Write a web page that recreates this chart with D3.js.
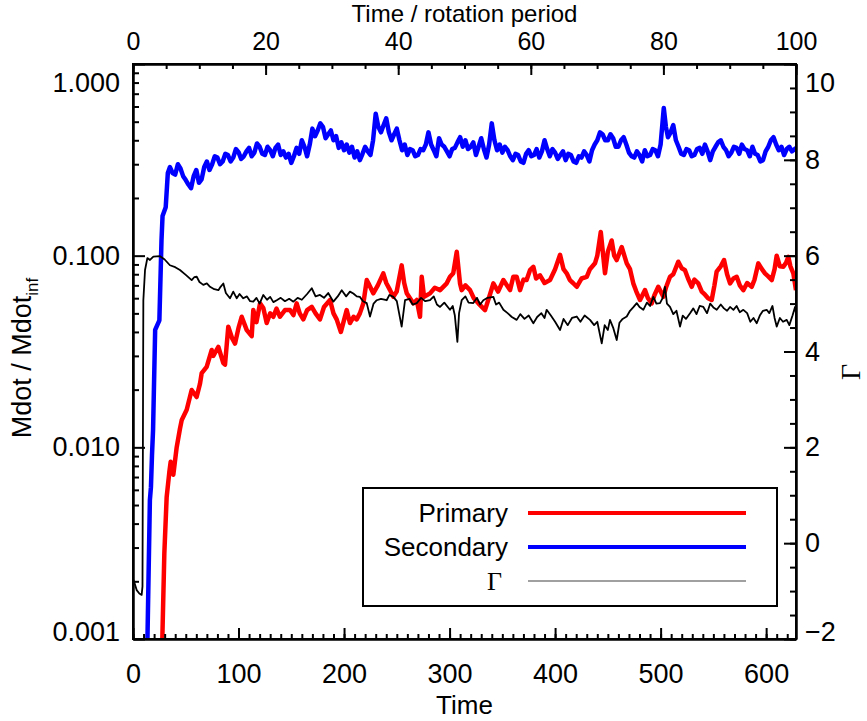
<!DOCTYPE html>
<html lang="en">
<head>
<meta charset="utf-8">
<title>Mdot / Mdot_inf and Gamma against time</title>
<script src="https://d3js.org/d3.v7.min.js"></script>
<style>
  body { margin: 0; background: #fff; }
  svg text { font-family: "Liberation Sans", Arial, Helvetica, sans-serif; fill: #000; }
  .axis path, .axis line { stroke: #000; stroke-width: 2; }
  .axis text { font-size: 27px; }
  .axis.top text { font-size: 25px; }
</style>
</head>
<body>
<div id="chart"></div>
<script>
// Primary accretion rate (red)
var primaryTime = [25, 27.8, 29.7, 31.9, 34.4, 35.7, 38.2, 41.4, 44.5, 46.2, 50.9, 55.6, 60.3, 63.5, 65.1, 69.8, 74.6, 76.1, 80.9, 85.6, 87.2, 90.3, 94, 96.7, 100, 103, 107.8, 112.5, 114, 117, 120.4, 123.5, 126.7, 130, 133, 136, 139.3, 144, 148.8, 152, 155.1, 158, 161.4, 165, 169.4, 173, 177.2, 181, 186.7, 190, 193, 197, 202.5, 205.6, 209, 212, 215, 218.3, 221.5, 223, 227.7, 232, 237.2, 240, 243.6, 246.7, 249.9, 254.6, 257, 259.4, 265.6, 268.9, 272, 273.6, 275.8, 281.5, 286, 291, 297.3, 300.4, 303.5, 306.8, 309.9, 311.5, 315, 319.4, 323, 327.3, 333.6, 338, 341.5, 346, 351, 357.3, 360.4, 363.6, 366.8, 370, 373, 376.2, 379.4, 382, 385.7, 390, 395.2, 400, 404.7, 408, 411, 414, 417, 420.5, 425, 430, 433, 437.8, 440, 443.3, 447.3, 450, 453.6, 456, 458.4, 463.1, 467.9, 471, 474.1, 477, 480.5, 485.2, 488, 491.6, 494, 497.8, 502.6, 505, 508.9, 512, 516.8, 520, 523.1, 526, 529.5, 532, 535.7, 539, 542.1, 545, 548.4, 551, 553.1, 557, 560.1, 563, 565.8, 569, 572.1, 575, 578.4, 582, 586.3, 589, 592.6, 596, 598.9, 602, 605.3, 608, 610, 613, 616.3, 619, 621, 623, 625.8, 628.3];
var primary = [0.0006, 0.001, 0.0028, 0.0055, 0.0074, 0.0084, 0.0072, 0.0100, 0.0125, 0.0139, 0.0157, 0.0199, 0.0183, 0.0215, 0.0244, 0.0263, 0.0322, 0.030, 0.0334, 0.0275, 0.027, 0.0426, 0.037, 0.0348, 0.042, 0.048, 0.0409, 0.038, 0.052, 0.045, 0.0564, 0.0533, 0.0445, 0.050, 0.048, 0.053, 0.048, 0.052, 0.052, 0.049, 0.0564, 0.050, 0.0465, 0.052, 0.0541, 0.050, 0.0465, 0.054, 0.0587, 0.050, 0.0465, 0.040, 0.052, 0.0445, 0.048, 0.0465, 0.050, 0.0564, 0.0746, 0.072, 0.0636, 0.070, 0.0809, 0.072, 0.0661, 0.061, 0.065, 0.089, 0.072, 0.0636, 0.0564, 0.0587, 0.048, 0.0776, 0.061, 0.0636, 0.068, 0.0661, 0.0717, 0.0776, 0.081, 0.1048, 0.0717, 0.0661, 0.070, 0.0661, 0.060, 0.0564, 0.052, 0.062, 0.0717, 0.065, 0.0746, 0.0661, 0.0776, 0.0776, 0.0661, 0.075, 0.0746, 0.084, 0.0875, 0.076, 0.079, 0.072, 0.0746, 0.085, 0.101, 0.085, 0.0809, 0.0746, 0.072, 0.0688, 0.076, 0.0776, 0.085, 0.0912, 0.100, 0.133, 0.0809, 0.105, 0.12, 0.100, 0.0949, 0.111, 0.0912, 0.085, 0.0717, 0.065, 0.0587, 0.0661, 0.060, 0.0564, 0.062, 0.0688, 0.061, 0.068, 0.0776, 0.080, 0.093, 0.086, 0.084, 0.076, 0.0688, 0.075, 0.0717, 0.065, 0.0626, 0.060, 0.0587, 0.070, 0.0825, 0.088, 0.0949, 0.080, 0.0717, 0.076, 0.0776, 0.070, 0.0661, 0.072, 0.0688, 0.075, 0.0912, 0.085, 0.0809, 0.078, 0.0746, 0.085, 0.1, 0.088, 0.0875, 0.092, 0.0987, 0.088, 0.0809, 0.0661];

// Secondary accretion rate (blue)
var secondaryTime = [12, 13.7, 16, 17, 18, 19, 21, 25, 27, 28, 31, 33, 35, 37.5, 40, 42.5, 45, 47.5, 50, 52.5, 55, 57.5, 60, 62.5, 65, 67.5, 70, 72.5, 75, 77.5, 80, 82.5, 85, 87.5, 90, 92.5, 95, 97.5, 100, 102.5, 105, 107.5, 110, 112.5, 115, 117.5, 120, 122.5, 125, 127.5, 130, 132.5, 135, 137.5, 140, 142.5, 145, 147.5, 150, 152.5, 155, 157.5, 160, 162.5, 165, 167.5, 170, 172.5, 175, 177.5, 180, 182.5, 185, 187.5, 190, 192.5, 195, 197.5, 200, 202.5, 205, 207.5, 210, 212.5, 215, 217.5, 220, 222.5, 225, 227.5, 230, 232.5, 235, 237.5, 240, 242.5, 245, 247.5, 250, 252.5, 255, 257.5, 260, 262.5, 265, 267.5, 270, 272.5, 275, 277.5, 280, 282.5, 285, 287.5, 290, 292.5, 295, 297.5, 300, 302.5, 305, 307.5, 310, 312.5, 315, 317.5, 320, 322.5, 325, 327.5, 330, 332.5, 335, 337.5, 340, 342.5, 345, 347.5, 350, 352.5, 355, 357.5, 360, 362.5, 365, 367.5, 370, 372.5, 375, 377.5, 380, 382.5, 385, 387.5, 390, 392.5, 395, 397.5, 400, 402.5, 405, 407.5, 410, 412.5, 415, 417.5, 420, 422.5, 425, 427.5, 430, 432.5, 435, 437.5, 440, 442.5, 445, 447.5, 450, 452.5, 455, 457.5, 460, 462.5, 465, 467.5, 470, 472.5, 475, 477.5, 480, 482.5, 485, 487.5, 490, 492.5, 495, 497.5, 500, 503, 505, 507, 509.5, 512, 514.5, 517, 519.5, 522, 524.5, 527, 529.5, 532, 534.5, 537, 539.5, 542, 544.5, 547, 549.5, 552, 554.5, 557, 559.5, 562, 564.5, 567, 569.5, 572, 574.5, 577, 579.5, 582, 584.5, 587, 589.5, 592, 594.5, 597, 599.5, 602, 604.5, 607, 609.5, 612, 614.5, 617, 619.5, 622, 624.5, 628.3];
var secondary = [0.0007, 0.001, 0.0053, 0.0062, 0.0091, 0.0123, 0.041, 0.046, 0.120, 0.161, 0.179, 0.27, 0.29, 0.27, 0.265, 0.30, 0.285, 0.26, 0.248, 0.235, 0.225, 0.26, 0.28, 0.24, 0.25, 0.29, 0.31, 0.28, 0.30, 0.33, 0.325, 0.30, 0.31, 0.34, 0.335, 0.31, 0.325, 0.36, 0.347, 0.32, 0.33, 0.35, 0.365, 0.33, 0.345, 0.385, 0.37, 0.34, 0.335, 0.37, 0.355, 0.33, 0.365, 0.38, 0.335, 0.35, 0.325, 0.34, 0.305, 0.33, 0.365, 0.34, 0.40, 0.37, 0.33, 0.38, 0.46, 0.42, 0.45, 0.49, 0.47, 0.41, 0.43, 0.45, 0.40, 0.42, 0.365, 0.39, 0.355, 0.38, 0.345, 0.37, 0.325, 0.35, 0.315, 0.34, 0.37, 0.35, 0.335, 0.40, 0.55, 0.47, 0.44, 0.48, 0.52, 0.44, 0.40, 0.43, 0.46, 0.40, 0.355, 0.38, 0.335, 0.36, 0.355, 0.33, 0.335, 0.36, 0.355, 0.38, 0.44, 0.38, 0.355, 0.33, 0.41, 0.38, 0.37, 0.35, 0.33, 0.36, 0.365, 0.39, 0.415, 0.37, 0.40, 0.36, 0.37, 0.39, 0.335, 0.37, 0.41, 0.36, 0.325, 0.38, 0.49, 0.40, 0.355, 0.38, 0.345, 0.37, 0.355, 0.33, 0.315, 0.34, 0.335, 0.31, 0.305, 0.34, 0.355, 0.33, 0.335, 0.36, 0.325, 0.35, 0.40, 0.36, 0.33, 0.36, 0.345, 0.32, 0.335, 0.35, 0.315, 0.34, 0.335, 0.31, 0.305, 0.33, 0.325, 0.35, 0.335, 0.31, 0.355, 0.38, 0.40, 0.44, 0.43, 0.40, 0.40, 0.43, 0.41, 0.37, 0.37, 0.40, 0.415, 0.38, 0.345, 0.33, 0.325, 0.35, 0.335, 0.31, 0.355, 0.33, 0.335, 0.36, 0.355, 0.33, 0.38, 0.59, 0.47, 0.415, 0.44, 0.48, 0.40, 0.37, 0.34, 0.335, 0.36, 0.355, 0.33, 0.335, 0.36, 0.365, 0.34, 0.38, 0.35, 0.315, 0.35, 0.37, 0.39, 0.40, 0.37, 0.355, 0.33, 0.345, 0.37, 0.365, 0.34, 0.38, 0.36, 0.355, 0.33, 0.37, 0.34, 0.335, 0.31, 0.315, 0.35, 0.37, 0.40, 0.415, 0.38, 0.355, 0.37, 0.335, 0.36, 0.37, 0.35, 0.365];

// Gamma (black, right axis)
var gammaTime = [0, 1, 3.5, 6, 8.2, 9, 9.5, 9.8, 11.4, 13.6, 16.1, 19.3, 25.6, 30, 35, 40, 44.5, 50, 55.6, 58, 60.4, 63, 66.6, 70, 73, 77, 80.9, 83, 85.6, 88, 91.9, 95, 98.3, 101, 104.5, 108, 111, 114, 117, 120, 123.5, 127, 130, 133, 136.2, 140, 144, 148, 152, 156, 160, 165, 169.4, 173, 177.2, 181, 185, 189.9, 194, 197.8, 202, 205.6, 208.8, 212, 215, 218, 221.5, 224.6, 228, 231, 235, 240.4, 243, 246.7, 250, 254.6, 257.8, 262, 265, 268.9, 273, 277, 281.5, 285, 288, 291, 295, 300.4, 303, 305, 307.4, 309, 311.5, 315, 318, 322.5, 326, 329, 332, 336, 341.5, 344, 347, 351, 355, 359, 363.6, 367, 371, 375, 379.4, 383, 387, 390, 392, 396, 400, 404.7, 408, 412, 416, 420.5, 424, 428, 433.1, 437, 440, 444.2, 447, 450, 452, 455, 458.4, 461, 464, 467.9, 471, 474, 477.4, 480, 483.6, 487, 490, 493.1, 496, 499.4, 502, 504.1, 506, 508.9, 512, 515, 518.4, 521, 524, 527.9, 531, 534, 537, 540.5, 544, 547, 550, 553.2, 557, 560, 563, 565.8, 569, 572, 575, 578.4, 582, 585, 588, 591.1, 594, 597, 600.5, 603, 606, 608, 610, 613, 616, 619.5, 622, 625, 627.4, 628.3];
var gamma = [-0.75, -0.80, -0.98, -1.05, -1.08, -0.9, 3.0, 5.07, 5.70, 5.95, 5.91, 5.98, 5.99, 5.92, 5.80, 5.76, 5.70, 5.60, 5.49, 5.55, 5.56, 5.45, 5.39, 5.42, 5.35, 5.30, 5.28, 5.35, 5.42, 5.22, 5.11, 5.25, 5.11, 5.2, 5.11, 5.15, 5.05, 5.04, 5.12, 5.0, 5.18, 5.08, 5.14, 5.03, 5.07, 5.12, 5.05, 5.10, 5.04, 5.12, 5.08, 5.20, 5.32, 5.15, 5.18, 5.12, 5.22, 5.04, 5.15, 5.28, 5.15, 5.25, 5.21, 5.15, 5.14, 5.05, 5.01, 4.73, 5.0, 5.07, 5.10, 5.07, 5.18, 5.14, 5.05, 4.52, 5.07, 5.10, 4.98, 5.01, 5.12, 5.05, 5.07, 5.15, 4.98, 4.93, 5.02, 4.87, 4.95, 4.75, 4.20, 4.80, 5.07, 5.15, 5.02, 5.01, 5.12, 4.98, 5.07, 5.12, 5.14, 4.98, 5.02, 4.87, 4.80, 4.72, 4.66, 4.78, 4.68, 4.75, 4.59, 4.72, 4.80, 4.70, 4.87, 4.75, 4.62, 4.45, 4.68, 4.55, 4.70, 4.73, 4.62, 4.75, 4.66, 4.55, 4.62, 4.17, 4.55, 4.45, 4.66, 4.50, 4.24, 4.60, 4.68, 4.73, 4.85, 4.92, 5.01, 4.93, 4.87, 5.02, 4.95, 5.14, 5.0, 5.01, 5.12, 5.35, 5.0, 4.93, 4.78, 4.85, 4.52, 4.75, 4.68, 4.80, 4.90, 4.78, 4.95, 4.93, 4.80, 5.0, 4.92, 4.87, 4.98, 4.90, 4.85, 4.93, 4.87, 4.95, 4.82, 4.87, 4.80, 4.62, 4.70, 4.59, 4.75, 4.85, 4.87, 4.80, 4.95, 4.70, 4.52, 4.70, 4.62, 4.66, 4.55, 4.75, 4.93, 4.80];

// Tick values
var mdotTicks = [0.001, 0.01, 0.1, 1];
var timeTicks = [0, 100, 200, 300, 400, 500, 600];
var periodTicks = [0, 20, 40, 60, 80, 100];
var gammaTicks = [-2, 0, 2, 4, 6, 8, 10];

var legendLabels = ["Primary", "Secondary", "\u0393"];
var legendColors = ["#ff0000", "#0000ff", "#808080"];
var legendWidths = [4, 4, 1.5];

var W = 867, H = 721;
var margin = {top: 64, right: 71, bottom: 82, left: 133};
var width = W - margin.left - margin.right,
    height = H - margin.top - margin.bottom;

var x = d3.scaleLinear().domain([0, 628.3]).range([0, width]);
var xTop = d3.scaleLinear().domain([0, 100]).range([0, width]);
var y = d3.scaleLog().domain([0.001, 1]).range([height, 0]);
var yG = d3.scaleLinear().domain([-2, 10]).range([height, 0]);

var svg = d3.select("#chart").append("svg")
    .attr("width", W)
    .attr("height", H)
  .append("g")
    .attr("transform", "translate(" + margin.left + "," + margin.top + ")");

svg.append("clipPath").attr("id", "plotclip")
  .append("rect").attr("width", width).attr("height", height);

var plot = svg.append("g").attr("clip-path", "url(#plotclip)");

function pts(ts, vs) { return ts.map(function(t, i) { return [t, vs[i]]; }); }

var mdotLine = d3.line().x(function(d) { return x(d[0]); }).y(function(d) { return y(d[1]); });
var gammaLine = d3.line().x(function(d) { return x(d[0]); }).y(function(d) { return yG(d[1]); });

plot.append("path")
    .attr("d", mdotLine(pts(primaryTime, primary)))
    .attr("fill", "none").attr("stroke", "#ff0000").attr("stroke-width", 4.5)
    .attr("stroke-linejoin", "round");

plot.append("path")
    .attr("d", mdotLine(pts(secondaryTime, secondary)))
    .attr("fill", "none").attr("stroke", "#0000ff").attr("stroke-width", 4.5)
    .attr("stroke-linejoin", "round");

plot.append("path")
    .attr("d", gammaLine(pts(gammaTime, gamma)))
    .attr("fill", "none").attr("stroke", "#000").attr("stroke-width", 1.8)
    .attr("stroke-linejoin", "round");

// minor ticks first, then labelled major ticks
var minorLog = [];
[0.001, 0.01, 0.1].forEach(function(dec) {
  for (var k = 2; k <= 9; k++) minorLog.push(dec * k);
});

svg.append("g").attr("class", "axis")
    .call(d3.axisLeft(y).tickValues(minorLog).tickSize(-6).tickSizeOuter(0).tickFormat(""));
var left = svg.append("g").attr("class", "axis")
    .call(d3.axisLeft(y).tickValues(mdotTicks).tickSize(-12).tickSizeOuter(0)
      .tickPadding(13).tickFormat(d3.format(".3f")));

svg.append("g").attr("class", "axis")
    .attr("transform", "translate(" + width + ",0)")
    .call(d3.axisRight(yG).tickValues(d3.range(-2, 10.01, 0.5)).tickSize(-6).tickSizeOuter(0).tickFormat(""));
var right = svg.append("g").attr("class", "axis")
    .attr("transform", "translate(" + width + ",0)")
    .call(d3.axisRight(yG).tickValues(gammaTicks).tickSize(-12).tickSizeOuter(0)
      .tickPadding(9).tickFormat(d3.format("d")));

svg.append("g").attr("class", "axis")
    .attr("transform", "translate(0," + height + ")")
    .call(d3.axisBottom(x).tickValues(d3.range(0, 629, 10)).tickSize(-5).tickSizeOuter(0).tickFormat(""));
svg.append("g").attr("class", "axis")
    .attr("transform", "translate(0," + height + ")")
    .call(d3.axisBottom(x).tickValues(timeTicks).tickSize(-11).tickSizeOuter(0)
      .tickPadding(25).tickFormat(d3.format("d")));

svg.append("g").attr("class", "axis top")
    .call(d3.axisTop(xTop).tickValues(d3.range(0, 101, 5)).tickSize(-5).tickSizeOuter(0).tickFormat(""));
svg.append("g").attr("class", "axis top")
    .call(d3.axisTop(xTop).tickValues(periodTicks).tickSize(-11).tickSizeOuter(0)
      .tickPadding(14).tickFormat(d3.format("d")));

// end labels sit inside the axis range, like the original
left.selectAll(".tick text").attr("dy", function(d) {
  return d === 1 ? "1.0em" : (d === 0.001 ? "0.05em" : "0.32em");
});
right.selectAll(".tick text").attr("dy", function(d) {
  return d === 10 ? "1.0em" : (d === -2 ? "0.05em" : "0.32em");
});

// frame
svg.append("rect")
    .attr("width", width).attr("height", height)
    .attr("fill", "none").attr("stroke", "#000").attr("stroke-width", 2);

// titles
svg.append("text")
    .attr("x", width / 2).attr("y", -42)
    .attr("text-anchor", "middle").style("font-size", "24px")
    .text("Time / rotation period");

svg.append("text")
    .attr("x", width / 2).attr("y", height + 75)
    .attr("text-anchor", "middle").style("font-size", "26px")
    .text("Time");

var yTitle = svg.append("text")
    .attr("transform", "translate(" + (-102) + "," + (358 - margin.top) + ") rotate(-90)")
    .attr("text-anchor", "middle").style("font-size", "27px");
yTitle.append("tspan").text("Mdot / Mdot");
yTitle.append("tspan").attr("dy", 7).style("font-size", "17px").text("inf");

svg.append("text")
    .attr("transform", "translate(" + (width + 64) + "," + (372 - margin.top) + ") rotate(-90)")
    .attr("text-anchor", "middle")
    .style("font-family", "'Liberation Serif', 'Times New Roman', serif")
    .style("font-size", "28px")
    .text("\u0393");

// legend
var lg = svg.append("g")
    .attr("transform", "translate(" + (363 - margin.left) + "," + (488 - margin.top) + ")");
lg.append("rect")
    .attr("width", 414).attr("height", 118)
    .attr("fill", "#fff").attr("stroke", "#000").attr("stroke-width", 2);

legendLabels.forEach(function(label, i) {
  var ly = 25 + i * 34;
  lg.append("line")
      .attr("x1", 165).attr("x2", 383)
      .attr("y1", ly).attr("y2", ly)
      .attr("stroke", legendColors[i]).attr("stroke-width", legendWidths[i]);
  var t = lg.append("text")
      .attr("x", 145).attr("y", ly + 9)
      .attr("text-anchor", "end")
      .style("font-size", "26px")
      .text(label);
  if (i === 2) t.style("font-family", "'Liberation Serif', 'Times New Roman', serif").attr("x", 139);
});
</script>
</body>
</html>
